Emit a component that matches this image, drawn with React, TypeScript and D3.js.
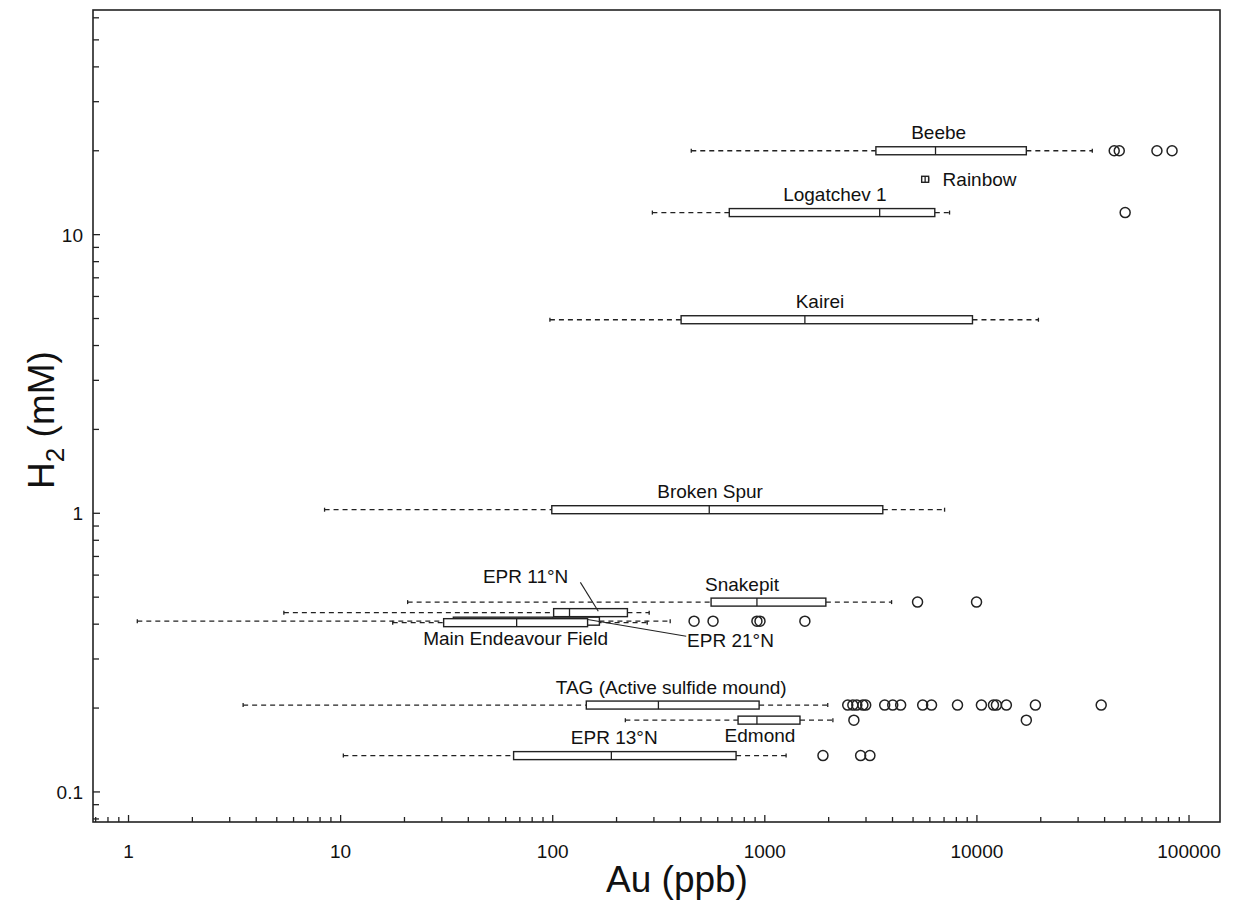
import React from "react";
import * as d3 from "d3";

// ---- data ----
const sites = ["Beebe", "Rainbow", "Logatchev 1", "Kairei", "Broken Spur", "Snakepit", "EPR 11°N", "EPR 21°N", "Main Endeavour Field", "TAG (Active sulfide mound)", "Edmond", "EPR 13°N"];
const h2Values = [20, 15.8, 12, 4.95, 1.03, 0.48, 0.44, 0.41, 0.405, 0.205, 0.181, 0.135];
const whiskerLow = [450, 5490, 295, 97, 8.4, 20.7, 5.4, 1.1, 17.6, 3.47, 220, 10.3];
const q1 = [3340, 5490, 680, 403, 99, 558, 101, 34, 30.6, 144, 748, 65.4];
const medians = [6380, 5700, 3480, 1545, 547, 918, 120, 100, 67.6, 315, 918, 189];
const q3 = [17100, 5920, 6330, 9530, 3600, 1940, 225, 166, 146, 940, 1465, 732];
const whiskerHigh = [35000, 5920, 7430, 19500, 7040, 3960, 285, 358, 279, 1980, 2094, 1260];
const outliers = [
  [44400, 46900, 70600, 83200],
  [],
  [50000],
  [],
  [],
  [5250, 9960],
  [],
  [464, 570, 918, 949, 1545],
  [],
  [2460, 2600, 2715, 2900, 2990, 3675, 4010, 4370, 5550, 6110, 8100, 10500, 11970, 12360, 13770, 18870, 38550],
  [2630, 17100],
  [1880, 2830, 3130],
];

// labels: text, Au anchor, H2 baseline, anchor
const labelText = ["Beebe", "Rainbow", "Logatchev 1", "Kairei", "Broken Spur", "Snakepit", "EPR 11°N", "Main Endeavour Field", "EPR 21°N", "TAG (Active sulfide mound)", "Edmond", "EPR 13°N"];
const labelAu = [6600, 6890, 2140, 1820, 552, 781, 74.5, 66.8, 430, 362, 949, 195];
const labelH2 = [22.0, 14.9, 13.2, 5.45, 1.13, 0.525, 0.561, 0.336, 0.330, 0.224, 0.151, 0.149];
const labelAnchor = ["middle", "start", "middle", "middle", "middle", "middle", "middle", "middle", "start", "middle", "middle", "middle"];

// leader lines [au1, h21, au2, h22]
const leaders = [
  [135, 0.565, 164, 0.445],
  [146, 0.416, 426, 0.362],
];

const xMajor = [1, 10, 100, 1000, 10000, 100000];
const xTickLabels = ["1", "10", "100", "1000", "10000", "100000"];
const yMajor = [0.1, 1, 10];
const yTickLabels = ["0.1", "1", "10"];

const W = 1233, H = 900;
const FONT = "'Liberation Sans', Arial, Helvetica, sans-serif";

export default function App() {
  const left = 93, right = 1220, top = 10, bottom = 822;
  const x = d3.scaleLog().domain([0.68, 1.4e5]).range([left, right]);
  const y = d3.scaleLog().domain([0.078, 64]).range([bottom, top]);

  const xMinor: number[] = [];
  for (let e = -1; e <= 5; e++) for (let m = 2; m <= 9; m++) {
    const v = m * Math.pow(10, e);
    if (v >= 0.68 && v <= 1.4e5) xMinor.push(v);
  }
  const yMinor: number[] = [];
  for (let e = -2; e <= 1; e++) for (let m = 2; m <= 9; m++) {
    const v = m * Math.pow(10, e);
    if (v >= 0.078 && v <= 64) yMinor.push(v);
  }

  const bh = 4;
  return (
    <svg width={W} height={H} style={{ position: "absolute", left: 0, top: 0, background: "#fff" }} fontFamily={FONT}>
      <rect x={0} y={0} width={W} height={H} fill="#fff" />
      {/* ticks */}
      {xMinor.map((v, i) => (
        <line key={"xm" + i} x1={x(v)} x2={x(v)} y1={bottom} y2={bottom - 5} stroke="#222" strokeWidth={1.3} />
      ))}
      {xMajor.map((v, i) => (
        <g key={"xM" + i}>
          <line x1={x(v)} x2={x(v)} y1={bottom} y2={bottom - 7} stroke="#222" strokeWidth={1.3} />
          <text x={x(v)} y={858} textAnchor="middle" fontSize={19} fill="#111">{xTickLabels[i]}</text>
        </g>
      ))}
      {yMinor.map((v, i) => (
        <line key={"ym" + i} x1={left} x2={left + 6} y1={y(v)} y2={y(v)} stroke="#222" strokeWidth={1.3} />
      ))}
      {yMajor.map((v, i) => (
        <g key={"yM" + i}>
          <line x1={left} x2={left + 7} y1={y(v)} y2={y(v)} stroke="#222" strokeWidth={1.3} />
          <text x={83} y={y(v) + 7} textAnchor="end" fontSize={19} fill="#111">{yTickLabels[i]}</text>
        </g>
      ))}
      {/* whiskers */}
      {sites.map((s, i) => {
        const yy = y(h2Values[i]);
        return (
          <g key={"w" + i}>
            <line x1={x(whiskerLow[i])} x2={x(q1[i])} y1={yy} y2={yy} stroke="#222" strokeWidth={1.3} strokeDasharray="5,4" />
            <line x1={x(q3[i])} x2={x(whiskerHigh[i])} y1={yy} y2={yy} stroke="#222" strokeWidth={1.3} strokeDasharray="5,4" />
            <line x1={x(whiskerLow[i])} x2={x(whiskerLow[i])} y1={yy - 2} y2={yy + 2} stroke="#222" strokeWidth={1.3} />
            <line x1={x(whiskerHigh[i])} x2={x(whiskerHigh[i])} y1={yy - 2} y2={yy + 2} stroke="#222" strokeWidth={1.3} />
          </g>
        );
      })}
      {/* boxes */}
      {sites.map((s, i) => {
        const yy = y(h2Values[i]);
        const h = i === 1 ? 3 : bh;
        return (
          <g key={"b" + i}>
            <rect x={x(q1[i])} y={yy - h} width={Math.max(0, x(q3[i]) - x(q1[i]))} height={2 * h} fill="#fff" stroke="#222" strokeWidth={1.4} />
            <line x1={x(medians[i])} x2={x(medians[i])} y1={yy - h} y2={yy + h} stroke="#222" strokeWidth={1.3} />
          </g>
        );
      })}
      {/* outliers */}
      {sites.map((s, i) =>
        outliers[i].map((v, j) => (
          <circle key={"o" + i + "_" + j} cx={x(v)} cy={y(h2Values[i])} r={5} fill="none" stroke="#222" strokeWidth={1.5} />
        ))
      )}
      {/* leader lines */}
      {leaders.map((l, i) => (
        <line key={"l" + i} x1={x(l[0])} y1={y(l[1])} x2={x(l[2])} y2={y(l[3])} stroke="#222" strokeWidth={1.1} />
      ))}
      {/* labels */}
      {labelText.map((t, i) => (
        <text key={"t" + i} x={x(labelAu[i])} y={y(labelH2[i])} textAnchor={labelAnchor[i] as any} fontSize={19} fill="#111">{t}</text>
      ))}
      {/* frame */}
      <rect x={left} y={top} width={right - left} height={bottom - top} fill="none" stroke="#222" strokeWidth={1.6} />
      {/* axis titles */}
      <text x={677} y={892} textAnchor="middle" fontSize={37} fill="#111">Au (ppb)</text>
      <text transform={`translate(54,${420}) rotate(-90)`} textAnchor="middle" fontSize={37} fill="#111">
        H<tspan fontSize={26} dy={10}>2</tspan><tspan dy={-10}> (mM)</tspan>
      </text>
    </svg>
  );
}
